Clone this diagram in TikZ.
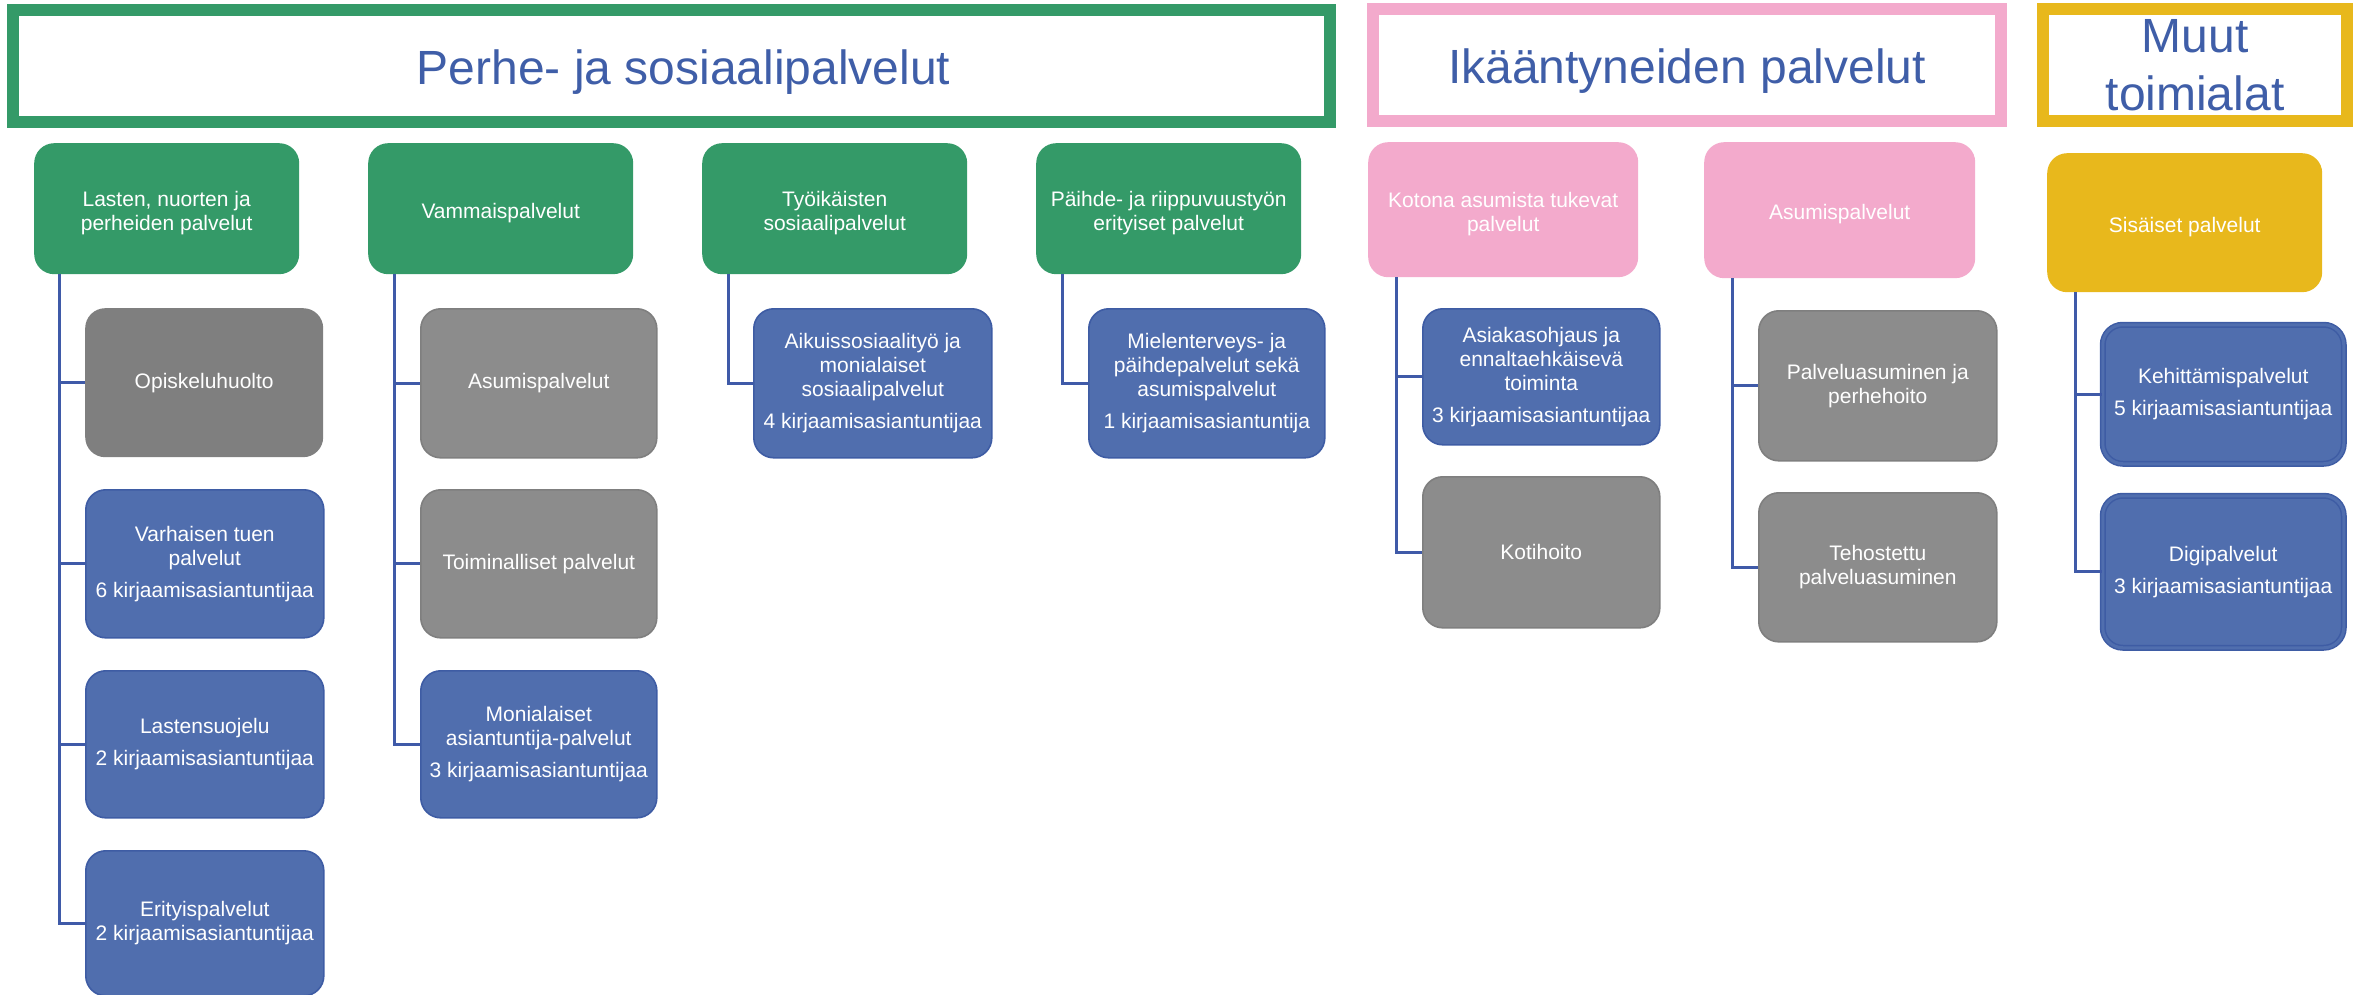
\documentclass[tikz,border=0pt]{standalone}
\usepackage{fontspec}
\setmainfont{Liberation Sans}
\definecolor{hgreen}{RGB}{52,154,104}
\definecolor{hpink}{RGB}{243,170,204}
\definecolor{hyellow}{RGB}{232,184,28}
\definecolor{bfill}{RGB}{80,110,174}
\definecolor{bborder}{RGB}{62,92,164}
\definecolor{gfill}{RGB}{140,140,140}
\definecolor{gborder}{RGB}{127,127,127}
\definecolor{gdark}{RGB}{127,127,127}
\definecolor{htext}{RGB}{63,94,168}
\definecolor{cblue}{RGB}{63,90,168}
\tikzset{
  hdr/.style={draw, line width=12pt, fill=white, text=htext, inner sep=0pt, align=center,
    font=\fontsize{48}{58}\selectfont, minimum height=112pt},
  hdrone/.style={hdr, text height=37pt, text depth=0pt},
  box/.style={rounded corners=20pt, inner sep=0pt, text=white, align=center, anchor=north west,
    font=\fontsize{21}{24}\selectfont},
  topone/.style={box, text height=24pt, text depth=4.5pt},
  toptwo/.style={box, text height=48pt, text depth=4.5pt},
  lgreen/.style={fill=hgreen},
  lpink/.style={fill=hpink},
  lyellow/.style={fill=hyellow},
  bluebox/.style={box, fill=bfill, draw=bborder, line width=1.6pt},
  greybox/.style={box, fill=gfill, draw=gborder, line width=1.6pt},
  darkbox/.style={box, fill=gdark},
  dblbox/.style={box, fill=bfill, draw=bborder, line width=1.5pt, double=bfill, double distance=3pt},
  conn/.style={draw=cblue, line width=3pt},
}
\begin{document}
\begin{tikzpicture}[x=1pt, y=-1pt]
\useasboundingbox (0,0) rectangle (2361,995);

% headers
\node[hdrone, draw=hgreen, minimum width=1317pt] (hperhe) at (671.5,66) {\hspace*{24pt}Perhe- ja sosiaalipalvelut};
\node[hdrone, draw=hpink, minimum width=628pt] (hikaa) at (1687,65) {Ikääntyneiden palvelut};
\node[hdr, draw=hyellow, minimum width=304pt] (hmuut) at (2195,65) {Muut\\toimialat};

% level 1
\node[toptwo, lgreen, minimum width=265pt, minimum height=131pt] (g1) at (34,143) {Lasten, nuorten ja\\perheiden palvelut};
\node[topone, lgreen, minimum width=265pt, minimum height=131pt] (g2) at (368,143) {Vammaispalvelut};
\node[toptwo, lgreen, minimum width=265pt, minimum height=131pt] (g3) at (702,143) {Työikäisten\\sosiaalipalvelut};
\node[toptwo, lgreen, minimum width=265pt, minimum height=131pt] (g4) at (1036,143) {Päihde- ja riippuvuustyön\\erityiset palvelut};
\node[toptwo, lpink, minimum width=270pt, minimum height=135pt] (p1) at (1368,142) {Kotona asumista tukevat\\palvelut};
\node[topone, lpink, minimum width=271pt, minimum height=136pt] (p2) at (1704,142) {Asumispalvelut};
\node[topone, lyellow, minimum width=275pt, minimum height=139pt] (y1) at (2047,153) {Sisäiset palvelut};

% level 2: column 1
\node[darkbox, minimum width=238pt, minimum height=149pt] (c11) at (85,308) {Opiskeluhuolto};
\node[bluebox, minimum width=238pt, minimum height=148pt] (c12) at (85,489) {Varhaisen tuen\\palvelut\\[8pt]6 kirjaamisasiantuntijaa};
\node[bluebox, minimum width=238pt, minimum height=147pt] (c13) at (85,670) {Lastensuojelu\\[8pt]2 kirjaamisasiantuntijaa};
\node[bluebox, minimum width=238pt, minimum height=145pt] (c14) at (85,850) {Erityispalvelut\\2 kirjaamisasiantuntijaa};
% column 2
\node[greybox, minimum width=236pt, minimum height=149pt] (c21) at (420,308) {Asumispalvelut};
\node[greybox, minimum width=236pt, minimum height=148pt] (c22) at (420,489) {Toiminalliset palvelut};
\node[bluebox, minimum width=236pt, minimum height=147pt] (c23) at (420,670) {Monialaiset\\asiantuntija-palvelut\\[8pt]3 kirjaamisasiantuntijaa};
% column 3
\node[bluebox, minimum width=238pt, minimum height=149pt] (c31) at (753,308) {Aikuissosiaalityö ja\\monialaiset\\sosiaalipalvelut\\[8pt]4 kirjaamisasiantuntijaa};
% column 4
\node[bluebox, minimum width=236pt, minimum height=149pt] (c41) at (1088,308) {Mielenterveys- ja\\päihdepalvelut sekä\\asumispalvelut\\[8pt]1 kirjaamisasiantuntija};
% pink columns
\node[bluebox, minimum width=237pt, minimum height=136pt] (c51) at (1422,308) {Asiakasohjaus ja\\ennaltaehkäisevä\\toiminta\\[8pt]3 kirjaamisasiantuntijaa};
\node[greybox, minimum width=237pt, minimum height=151pt] (c52) at (1422,476) {Kotihoito};
\node[greybox, minimum width=238pt, minimum height=150pt] (c61) at (1758,310) {Palveluasuminen ja\\perhehoito};
\node[greybox, minimum width=238pt, minimum height=149pt] (c62) at (1758,492) {Tehostettu\\palveluasuminen};
% yellow column
\node[dblbox, minimum width=241pt, minimum height=139pt] (c71) at (2102,324) {Kehittämispalvelut\\[8pt]5 kirjaamisasiantuntijaa};
\node[dblbox, minimum width=241pt, minimum height=152pt] (c72) at (2102,495) {Digipalvelut\\[8pt]3 kirjaamisasiantuntijaa};

% spine tops
\coordinate (s1) at (59,274);
\coordinate (s2) at (394,274);
\coordinate (s3) at (728,274);
\coordinate (s4) at (1062,274);
\coordinate (s5) at (1396,277);
\coordinate (s6) at (1732,278);
\coordinate (s7) at (2075,292);

% connectors
\draw[conn] (s1) |- (c11.west);
\draw[conn] (s1) |- (c12.west);
\draw[conn] (s1) |- (c13.west);
\draw[conn] (s1) |- (c14.west);
\draw[conn] (s2) |- (c21.west);
\draw[conn] (s2) |- (c22.west);
\draw[conn] (s2) |- (c23.west);
\draw[conn] (s3) |- (c31.west);
\draw[conn] (s4) |- (c41.west);
\draw[conn] (s5) |- (c51.west);
\draw[conn] (s5) |- (c52.west);
\draw[conn] (s6) |- (c61.west);
\draw[conn] (s6) |- (c62.west);
\draw[conn] (s7) |- (c71.west);
\draw[conn] (s7) |- (c72.west);
\end{tikzpicture}
\end{document}
